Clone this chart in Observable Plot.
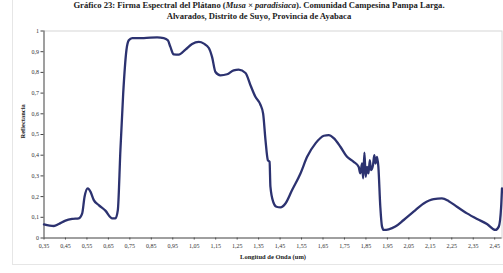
<!DOCTYPE html>
<html><head><meta charset="utf-8">
<script src="https://cdn.jsdelivr.net/npm/d3@7"></script>
<script src="https://cdn.jsdelivr.net/npm/@observablehq/plot@0.6"></script>
<style>
body{margin:0;background:#fff;width:503px;height:273px;overflow:hidden;position:relative;font-family:"Liberation Serif",serif}
#border{position:absolute;left:12px;top:0;width:491px;height:264px;border-left:1px solid #e6e6e6;border-bottom:1px solid #e6e6e6}
#title{position:absolute;left:0;top:0px;width:503px;padding-left:15px;box-sizing:border-box;text-align:center;font-weight:bold;font-size:8.6px;line-height:11px;color:#222;white-space:nowrap}
#chart{position:absolute;left:0;top:24px}
</style></head>
<body>
<div id="border"></div>
<div id="title">Gráfico 23: Firma Espectral del Plátano (<i>Musa × paradisiaca</i>). Comunidad Campesina Pampa Larga.<br>Alvarados, Distrito de Suyo, Provincia de Ayabaca</div>
<div id="chart"></div>
<script>
const wavelengths = [0.35,0.396,0.419,0.450,0.481,0.512,0.528,0.539,0.554,0.567,0.582,0.605,0.636,0.668,0.683,0.694,0.706,0.719,0.734,0.745,0.761,0.815,0.877,0.908,0.927,0.939,0.954,0.978,1.009,1.040,1.071,1.095,1.118,1.133,1.149,1.172,1.203,1.234,1.257,1.289,1.312,1.335,1.358,1.371,1.382,1.393,1.401,1.405,1.418,1.433,1.452,1.475,1.506,1.545,1.576,1.615,1.654,1.677,1.700,1.731,1.762,1.793,1.816,1.824,1.832,1.837,1.843,1.849,1.855,1.862,1.868,1.874,1.883,1.889,1.895,1.902,1.908,1.917,1.925,1.933,1.956,1.987,2.026,2.072,2.119,2.166,2.204,2.236,2.274,2.321,2.368,2.414,2.453,2.469,2.480,2.484];
const reflectance = [0.066,0.058,0.068,0.084,0.092,0.095,0.119,0.199,0.240,0.223,0.183,0.159,0.132,0.095,0.095,0.135,0.424,0.698,0.907,0.955,0.966,0.966,0.969,0.966,0.955,0.923,0.887,0.886,0.910,0.937,0.947,0.939,0.918,0.875,0.802,0.786,0.791,0.810,0.813,0.797,0.738,0.682,0.645,0.601,0.473,0.376,0.368,0.248,0.175,0.151,0.148,0.167,0.232,0.312,0.392,0.457,0.494,0.497,0.482,0.441,0.392,0.368,0.344,0.312,0.360,0.288,0.412,0.296,0.344,0.312,0.376,0.328,0.352,0.400,0.360,0.392,0.344,0.151,0.055,0.039,0.042,0.055,0.087,0.127,0.167,0.188,0.191,0.178,0.151,0.119,0.092,0.068,0.039,0.055,0.151,0.240];
const xTicks = [0.35,0.45,0.55,0.65,0.75,0.85,0.95,1.05,1.15,1.25,1.35,1.45,1.55,1.65,1.75,1.85,1.95,2.05,2.15,2.25,2.35,2.45];
const yTicks = [0,0.1,0.2,0.3,0.4,0.5,0.6,0.7,0.8,0.9,1];
const xTitle = "Longitud de Onda (um)";
const yTitle = "Reflectancia";

const data = wavelengths.map((w, i) => ({w, r: reflectance[i]}));
const comma = (d, k) => d.toFixed(k).replace(".", ",");

const chart = Plot.plot({
  width: 503, height: 249,
  marginLeft: 43.5, marginRight: 1.5, marginTop: 6.5, marginBottom: 35.5,
  style: {fontFamily: "Liberation Serif, serif", fontSize: "6px", color: "#333", background: "transparent"},
  x: {domain: [0.35, 2.484]},
  y: {domain: [0, 1]},
  marks: [
    Plot.frame({stroke: "#d6d6d6", strokeWidth: 1}),
    Plot.axisX({ticks: xTicks, tickSize: 2, tickPadding: 4, tickFormat: d => comma(d, 2), label: null, stroke: "#444", fill: "#333"}),
    Plot.axisY({ticks: yTicks, tickSize: 3, tickPadding: 2, tickFormat: d => d === 0 ? "0" : d === 1 ? "1" : comma(d, 1), label: null, stroke: "#444", fill: "#333"}),
    Plot.ruleY([0], {stroke: "#555", strokeWidth: 1}),
    Plot.ruleX([0.35], {stroke: "#555", strokeWidth: 1}),
    Plot.line(data, {x: "w", y: "r", stroke: "#2c3270", strokeWidth: 2.3, curve: "monotone-x"}),
    Plot.text([xTitle], {frameAnchor: "bottom", dy: 20.5, fontWeight: "bold", fontSize: 6.5, fill: "#222"}),
    Plot.text([yTitle], {frameAnchor: "left", dx: -20.8, dy: 4, rotate: -90, fontWeight: "bold", fontSize: 6.5, fill: "#222"})
  ]
});
document.getElementById("chart").appendChild(chart);
</script>
</body></html>
